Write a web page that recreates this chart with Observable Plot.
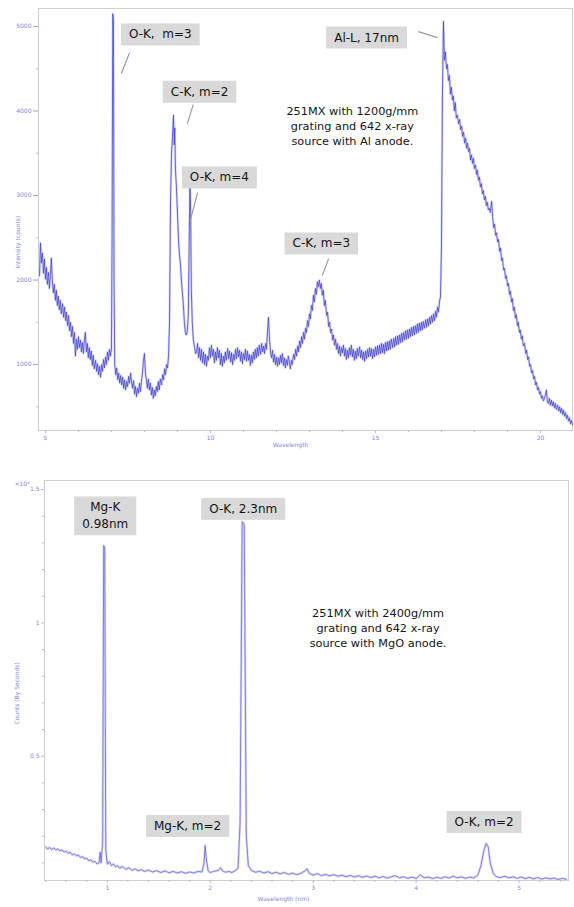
<!DOCTYPE html>
<html><head><meta charset="utf-8">
<script src="https://cdn.jsdelivr.net/npm/d3@7"></script>
<script src="https://cdn.jsdelivr.net/npm/@observablehq/plot@0.6"></script>
<style>
body{margin:0;background:#fff;}
#chart{width:574px;}
svg{display:block;}
</style></head><body><div id="chart"></div>
<script>
// ---------- TOP PANEL DATA (wavelength nm, counts) ----------
const topSpectrum = [
[4.82,2050],[4.85,2440],[4.88,2200],[4.91,2320],[4.94,2080],[4.97,2250],[5.00,2010],[5.03,2150],[5.06,1950],[5.09,2090],
[5.12,1900],[5.15,2050],[5.18,2260],[5.21,1980],[5.24,1850],[5.27,1950],[5.30,1760],[5.33,1880],[5.36,1700],[5.39,1810],
[5.42,1650],[5.45,1760],[5.48,1600],[5.52,1720],[5.55,1560],[5.58,1680],[5.61,1520],[5.64,1620],[5.67,1460],[5.70,1580],
[5.73,1400],[5.76,1500],[5.79,1330],[5.82,1450],[5.85,1250],[5.88,1380],[5.91,1100],[5.94,1300],[5.97,1180],[6.00,1330],
[6.03,1200],[6.06,1290],[6.09,1150],[6.12,1260],[6.15,1130],[6.18,1290],[6.21,1380],[6.24,1150],[6.27,1250],[6.30,1080],
[6.33,1200],[6.36,1060],[6.39,1160],[6.42,990],[6.45,1110],[6.48,950],[6.52,1050],[6.55,920],[6.58,1010],[6.61,880],
[6.64,980],[6.67,850],[6.70,1000],[6.73,920],[6.76,1060],[6.79,960],[6.82,1090],[6.85,1000],[6.88,1150],[6.91,1050],
[6.94,1180],[6.97,1100],[7.00,1180],[7.02,2500],[7.04,5150],[7.06,5100],[7.08,2000],[7.10,1000],[7.13,880],[7.16,960],
[7.19,820],[7.22,900],[7.25,780],[7.28,870],[7.31,760],[7.34,850],[7.37,720],[7.40,820],[7.43,700],[7.46,800],
[7.49,740],[7.52,860],[7.55,780],[7.58,900],[7.61,790],[7.64,720],[7.67,810],[7.70,650],[7.73,740],[7.76,620],
[7.79,720],[7.82,660],[7.85,780],[7.88,680],[7.91,800],[7.94,900],[7.97,1050],[8.00,1130],[8.03,900],[8.06,820],
[8.09,720],[8.12,830],[8.15,700],[8.18,780],[8.21,640],[8.24,730],[8.27,600],[8.30,700],[8.33,630],[8.36,740],
[8.39,680],[8.42,800],[8.45,700],[8.48,830],[8.52,760],[8.55,880],[8.58,820],[8.61,950],[8.64,880],[8.67,1000],
[8.70,960],[8.73,1100],[8.76,1500],[8.79,2900],[8.82,3500],[8.85,3700],[8.88,3950],[8.90,3600],[8.92,3800],[8.94,3300],
[8.97,3100],[9.00,2800],[9.03,2500],[9.06,2300],[9.09,2200],[9.12,2000],[9.15,1850],[9.18,1700],[9.21,1500],[9.24,1380],
[9.27,1350],[9.30,1400],[9.33,1600],[9.36,2600],[9.38,3180],[9.40,2800],[9.42,1900],[9.45,1500],[9.48,1300],[9.52,1200],
[9.55,1130],[9.58,1150],[9.61,1250],[9.64,1080],[9.67,1200],[9.70,1050],[9.73,1180],[9.76,1020],[9.79,1150],[9.82,1000],
[9.85,1120],[9.88,980],[9.91,1100],[9.94,1050],[9.97,1200],[10.00,1080],[10.03,1230],[10.06,1100],[10.09,1180],[10.12,1020],
[10.15,1150],[10.18,1050],[10.21,1200],[10.24,1080],[10.27,1170],[10.30,1000],[10.33,1130],[10.36,980],[10.39,1100],[10.42,1020],
[10.45,1150],[10.48,1050],[10.52,1190],[10.55,1070],[10.58,1160],[10.61,1030],[10.64,1140],[10.67,1000],[10.70,1120],[10.73,1050],
[10.76,1180],[10.79,1070],[10.82,1200],[10.85,1090],[10.88,1170],[10.91,1040],[10.94,1150],[10.97,1010],[11.00,1130],[11.03,1060],
[11.06,1180],[11.09,1040],[11.12,1160],[11.15,1050],[11.18,1120],[11.21,990],[11.24,1110],[11.27,1020],[11.30,1150],[11.33,1060],
[11.36,1180],[11.39,1080],[11.42,1200],[11.45,1100],[11.48,1230],[11.52,1120],[11.55,1250],[11.58,1150],[11.61,1220],[11.64,1130],
[11.67,1250],[11.70,1180],[11.73,1400],[11.76,1560],[11.79,1300],[11.82,1150],[11.85,1080],[11.88,1170],[11.91,1030],[11.94,1120],
[11.97,1000],[12.00,1090],[12.03,980],[12.06,1080],[12.09,1000],[12.12,1110],[12.15,1020],[12.18,1130],[12.21,990],[12.24,1080],
[12.27,960],[12.30,1060],[12.33,990],[12.36,1100],[12.39,1030],[12.42,950],[12.45,1050],[12.48,1000],[12.52,1120],[12.55,1060],
[12.58,1180],[12.61,1100],[12.64,1220],[12.67,1150],[12.70,1280],[12.73,1200],[12.76,1330],[12.79,1250],[12.82,1380],[12.85,1300],
[12.88,1430],[12.91,1380],[12.94,1520],[12.97,1450],[13.00,1600],[13.03,1540],[13.06,1700],[13.09,1640],[13.12,1820],[13.15,1740],
[13.18,1900],[13.21,1830],[13.24,1980],[13.27,1920],[13.30,2000],[13.33,1900],[13.36,1960],[13.39,1820],[13.42,1880],[13.45,1700],
[13.48,1760],[13.52,1580],[13.55,1620],[13.58,1450],[13.61,1500],[13.64,1380],[13.67,1420],[13.70,1290],[13.73,1350],[13.76,1230],
[13.79,1300],[13.82,1180],[13.85,1250],[13.88,1130],[13.91,1220],[13.94,1100],[13.97,1200],[14.00,1140],[14.03,1230],[14.06,1100],
[14.09,1190],[14.12,1060],[14.15,1170],[14.18,1080],[14.21,1200],[14.24,1110],[14.27,1230],[14.30,1090],[14.33,1180],[14.36,1050],
[14.39,1160],[14.42,1070],[14.45,1190],[14.48,1100],[14.52,1210],[14.55,1080],[14.58,1170],[14.61,1060],[14.64,1150],[14.67,1040],
[14.70,1160],[14.73,1070],[14.76,1180],[14.79,1090],[14.82,1200],[14.85,1100],[14.88,1190],[14.91,1070],[14.94,1180],[14.97,1090],
[15.00,1210],[15.03,1110],[15.06,1220],[15.09,1120],[15.12,1230],[15.15,1130],[15.18,1250],[15.21,1140],[15.24,1240],[15.27,1130],
[15.30,1260],[15.33,1160],[15.36,1270],[15.39,1170],[15.42,1280],[15.45,1180],[15.48,1300],[15.52,1200],[15.55,1310],[15.58,1210],
[15.61,1330],[15.64,1230],[15.67,1340],[15.70,1240],[15.73,1350],[15.76,1260],[15.79,1370],[15.82,1270],[15.85,1380],[15.88,1290],
[15.91,1400],[15.94,1300],[15.97,1410],[16.00,1310],[16.03,1420],[16.06,1330],[16.09,1440],[16.12,1340],[16.15,1450],[16.18,1350],
[16.21,1460],[16.24,1370],[16.27,1480],[16.30,1380],[16.33,1490],[16.36,1400],[16.39,1500],[16.42,1410],[16.45,1510],[16.48,1430],
[16.52,1530],[16.55,1440],[16.58,1540],[16.61,1460],[16.64,1560],[16.67,1480],[16.70,1580],[16.73,1500],[16.76,1600],[16.79,1520],
[16.82,1630],[16.85,1560],[16.88,1680],[16.91,1620],[16.94,1750],[16.97,1800],[17.00,2400],[17.03,4200],[17.06,5060],[17.09,4600],
[17.12,4700],[17.15,4500],[17.18,4550],[17.21,4360],[17.24,4420],[17.27,4200],[17.30,4280],[17.33,4130],[17.36,4180],[17.39,4000],
[17.42,4100],[17.45,3920],[17.48,3950],[17.52,3850],[17.55,3900],[17.58,3780],[17.61,3820],[17.64,3700],[17.67,3750],[17.70,3620],
[17.73,3680],[17.76,3560],[17.79,3620],[17.82,3520],[17.85,3560],[17.88,3420],[17.91,3480],[17.94,3380],[17.97,3440],[18.00,3320],
[18.03,3360],[18.06,3250],[18.09,3300],[18.12,3180],[18.15,3220],[18.18,3100],[18.21,3140],[18.24,3020],[18.27,3060],[18.30,2950],
[18.33,2990],[18.36,2880],[18.39,2920],[18.42,2830],[18.45,2850],[18.48,2800],[18.52,2930],[18.55,2750],[18.58,2620],[18.61,2660],
[18.64,2530],[18.67,2560],[18.70,2450],[18.73,2480],[18.76,2340],[18.79,2380],[18.82,2230],[18.85,2260],[18.88,2120],[18.91,2140],
[18.94,2020],[18.97,2050],[19.00,1930],[19.03,1960],[19.06,1830],[19.09,1870],[19.12,1740],[19.15,1780],[19.18,1640],[19.21,1680],
[19.24,1550],[19.27,1590],[19.30,1460],[19.33,1500],[19.36,1380],[19.39,1410],[19.42,1300],[19.45,1340],[19.48,1220],[19.52,1250],
[19.55,1130],[19.58,1170],[19.61,1060],[19.64,1090],[19.67,980],[19.70,1000],[19.73,900],[19.76,930],[19.79,830],[19.82,860],
[19.85,760],[19.88,790],[19.91,700],[19.94,730],[19.97,650],[20.00,680],[20.03,600],[20.06,630],[20.09,570],[20.12,600],
[20.15,640],[20.18,700],[20.21,560],[20.24,540],[20.27,600],[20.30,520],[20.33,580],[20.36,510],[20.39,560],[20.42,490],
[20.45,540],[20.48,470],[20.52,520],[20.55,450],[20.58,500],[20.61,430],[20.64,480],[20.67,410],[20.70,460],[20.73,390],
[20.76,430],[20.79,360],[20.82,400],[20.85,330],[20.88,370],[20.91,300],[20.94,340],[20.97,290]
];
const topXDomain = [4.79, 20.97];
const topYDomain = [220, 5213];
const topMajorX = [5, 10, 15, 20];
const topMinorX = [6,7,8,9,11,12,13,14,16,17,18,19];
const topMajorY = [1000, 2000, 3000, 4000, 5000];
const topMinorY = [500, 1500, 2500, 3500, 4500];
const topLabels = ["O-K,  m=3", "C-K, m=2", "O-K, m=4", "C-K, m=3", "Al-L, 17nm"];
const topLabelX = [8.48, 9.67, 10.27, 13.36, 14.73];
const topLabelY = [4904, 4226, 3212, 2431, 4868];
const topLeaderX1 = [7.55, 9.48, 9.61, 13.58, 16.30];
const topLeaderY1 = [4691, 4076, 3035, 2254, 4939];
const topLeaderX2 = [7.30, 9.30, 9.39, 13.39, 16.88];
const topLeaderY2 = [4443, 3851, 2704, 2053, 4868];
const topNote = "251MX with 1200g/mm\ngrating and 642 x-ray\nsource with Al anode.";
const topNoteXY = [14.30, 3827];
const topXTitle = "Wavelength";
const topYTitle = "Intensity (counts)";

// ---------- BOTTOM PANEL DATA (wavelength nm, counts) ----------
const bottomSpectrum = [
[0.40,1600],[0.42,1520],[0.44,1580],[0.46,1500],[0.48,1560],[0.50,1480],[0.52,1530],[0.54,1450],[0.56,1490],[0.58,1400],
[0.60,1440],[0.62,1360],[0.64,1400],[0.66,1300],[0.68,1340],[0.70,1260],[0.72,1300],[0.74,1200],[0.76,1240],[0.78,1150],
[0.80,1180],[0.82,1080],[0.84,1120],[0.86,1030],[0.88,1060],[0.90,960],[0.92,1000],[0.93,1400],[0.94,1000],[0.955,1800],
[0.965,12900],[0.975,12800],[0.985,1500],[1.00,950],[1.02,1050],[1.04,900],[1.06,960],[1.08,850],[1.10,900],[1.12,800],
[1.15,860],[1.18,760],[1.21,820],[1.24,720],[1.27,780],[1.30,700],[1.33,750],[1.36,680],[1.40,730],[1.44,660],
[1.48,710],[1.52,640],[1.56,700],[1.60,630],[1.64,680],[1.68,620],[1.72,670],[1.76,610],[1.80,660],[1.84,620],
[1.88,680],[1.92,660],[1.94,1000],[1.95,1650],[1.96,1200],[1.98,700],[2.00,640],[2.04,690],[2.08,720],[2.10,820],
[2.12,700],[2.15,650],[2.18,680],[2.21,640],[2.24,700],[2.27,800],[2.29,2500],[2.31,13800],[2.33,13700],[2.35,2000],
[2.37,900],[2.40,720],[2.44,650],[2.48,690],[2.52,620],[2.56,670],[2.60,600],[2.64,650],[2.68,590],[2.72,640],
[2.76,570],[2.80,620],[2.84,560],[2.88,610],[2.92,700],[2.94,780],[2.96,620],[3.00,540],[3.04,600],[3.08,520],
[3.12,570],[3.16,510],[3.20,560],[3.24,500],[3.28,540],[3.32,480],[3.36,530],[3.40,470],[3.44,520],[3.48,460],
[3.52,510],[3.56,450],[3.60,500],[3.64,440],[3.68,490],[3.72,430],[3.76,480],[3.80,520],[3.84,440],[3.88,480],
[3.92,420],[3.96,470],[4.00,410],[4.04,560],[4.08,440],[4.12,470],[4.16,410],[4.20,460],[4.24,420],[4.28,480],
[4.32,430],[4.36,500],[4.40,440],[4.44,480],[4.48,420],[4.52,470],[4.56,430],[4.60,550],[4.63,900],[4.66,1500],
[4.68,1730],[4.70,1600],[4.72,1000],[4.75,600],[4.78,480],[4.82,450],[4.86,500],[4.90,440],[4.94,480],[4.98,420],
[5.02,470],[5.06,410],[5.10,460],[5.14,400],[5.18,450],[5.22,390],[5.26,440],[5.30,400],[5.34,430],[5.38,380],
[5.42,420],[5.46,390]
];
const bottomXDomain = [0.39, 5.48];
const bottomYDomain = [340, 15340];
const bottomMajorX = [1, 2, 3, 4, 5];
const bottomMinorX = [0.4,0.6,0.8,1.2,1.4,1.6,1.8,2.2,2.4,2.6,2.8,3.2,3.4,3.6,3.8,4.2,4.4,4.6,4.8,5.2,5.4];
const bottomMajorY = [5000, 10000, 15000];
const bottomMinorY = [1000,2000,3000,4000,6000,7000,8000,9000,11000,12000,13000,14000];
const bottomLabels = ["Mg-K\n0.98nm", "O-K, 2.3nm", "Mg-K, m=2", "O-K, m=2"];
const bottomLabelX = [0.98, 2.32, 1.78, 4.66];
const bottomLabelY = [14066, 14329, 2438, 2588];
const bottomNote = "251MX with 2400g/mm\ngrating and 642 x-ray\nsource with MgO anode.";
const bottomNoteXY = [3.63, 9828];
const bottomXTitle = "Wavelength (nm)";
const bottomYTitle = "Counts (By Seconds)";

// ---------- STYLE ----------
const FONT = "DejaVu Sans, Verdana, sans-serif";
const axisInk = "#8585d6";
const tickInk = "#b8b8d8";
const haloInk = "#dcdcf6";
const annoInk = "#141414";

function table(pairs){ return pairs.map(([w,c]) => ({w, c})); }
function labelRows(t, x, y){ return t.map((s,i)=>({s, x:x[i], y:y[i]})); }

const chart = document.getElementById("chart");

const topPlot = Plot.plot({
  width: 574, height: 452,
  marginLeft: 38, marginRight: 2, marginTop: 8, marginBottom: 22,
  style: {fontFamily: FONT, background: "#fff", overflow: "visible"},
  x: {domain: topXDomain},
  y: {domain: topYDomain},
  marks: [
    Plot.frame({stroke: "#cfcfcf"}),
    Plot.axisX({ticks: topMinorX, tickSize: 2, tickFormat: () => "", stroke: tickInk, label: null}),
    Plot.axisX({ticks: topMajorX, tickSize: 3, tickPadding: 2, fontSize: 6, fill: axisInk, stroke: tickInk,
      tickFormat: d => String(d), label: null}),
    Plot.axisY({ticks: topMinorY, tickSize: 2, tickFormat: () => "", stroke: tickInk, label: null}),
    Plot.axisY({ticks: topMajorY, tickSize: 5, tickPadding: 2, fontSize: 6, fill: axisInk, stroke: "#9a9ad8",
      tickFormat: d => String(d), label: null}),
    Plot.text([topXTitle], {frameAnchor: "bottom", text: d => d, dx: -15, dy: 16, fontSize: 6, fill: axisInk}),
    Plot.text([topYTitle], {frameAnchor: "left", text: d => d, rotate: -90, dx: -20, dy: 49, fontSize: 6, fill: axisInk}),
    Plot.line(table(topSpectrum), {x: "w", y: "c", stroke: haloInk, strokeWidth: 2.5}),
    Plot.line(table(topSpectrum), {x: "w", y: "c", stroke: "#4646cc", strokeWidth: 0.9, strokeOpacity: 0.9}),
    Plot.link(topLabels.map((s,i)=>({x1: topLeaderX1[i], y1: topLeaderY1[i], x2: topLeaderX2[i], y2: topLeaderY2[i]})),
      {x1: "x1", y1: "y1", x2: "x2", y2: "y2", stroke: "#9a9a9a", strokeWidth: 1.2}),
    Plot.text(labelRows(topLabels, topLabelX, topLabelY), {x: "x", y: "y", text: "s", fontSize: 12, fill: annoInk,
      fontFamily: FONT}),
    Plot.text([topNote], {x: () => topNoteXY[0], y: () => topNoteXY[1], text: d => d, fontSize: 11.3, fill: "#151515",
      lineHeight: 1.33, fontFamily: FONT})
  ]
});
chart.appendChild(topPlot);

const bottomPlot = Plot.plot({
  width: 574, height: 455,
  marginLeft: 44, marginRight: 6, marginTop: 28, marginBottom: 27,
  style: {fontFamily: FONT, background: "#fff", overflow: "visible"},
  x: {domain: bottomXDomain},
  y: {domain: bottomYDomain},
  marks: [
    Plot.frame({stroke: "#cfcfcf"}),
    Plot.axisX({ticks: bottomMinorX, tickSize: 2, tickFormat: () => "", stroke: tickInk, label: null}),
    Plot.axisX({ticks: bottomMajorX, tickSize: 3, tickPadding: 2, fontSize: 6, fill: axisInk, stroke: tickInk,
      tickFormat: d => String(d), label: null}),
    Plot.axisY({ticks: bottomMinorY, tickSize: 2, tickFormat: () => "", stroke: tickInk, label: null}),
    Plot.axisY({ticks: bottomMajorY, tickSize: 3, tickPadding: 2, fontSize: 6, fill: axisInk, stroke: tickInk,
      tickFormat: d => String(d / 10000), label: null}),
    Plot.text([bottomXTitle], {frameAnchor: "bottom", text: d => d, dx: -23, dy: 20, fontSize: 6, fill: axisInk}),
    Plot.text([bottomYTitle], {frameAnchor: "left", text: d => d, rotate: -90, dx: -27, dy: 44, fontSize: 6, fill: axisInk}),
    Plot.text(["×10⁴"], {frameAnchor: "top-left", text: d => d, dx: -30, dy: 1, textAnchor: "start", fontSize: 6, fill: axisInk}),
    Plot.line(table(bottomSpectrum), {x: "w", y: "c", stroke: haloInk, strokeWidth: 2.5}),
    Plot.line(table(bottomSpectrum), {x: "w", y: "c", stroke: "#6262d6", strokeWidth: 0.9, strokeOpacity: 0.85}),
    Plot.text(labelRows(bottomLabels, bottomLabelX, bottomLabelY), {x: "x", y: "y", text: "s", fontSize: 12, fill: annoInk,
      lineHeight: 1.4, fontFamily: FONT}),
    Plot.text([bottomNote], {x: () => bottomNoteXY[0], y: () => bottomNoteXY[1], text: d => d, fontSize: 11.3, fill: "#151515",
      lineHeight: 1.33, fontFamily: FONT})
  ]
});
chart.appendChild(bottomPlot);

// grey label boxes behind the annotation texts
function addBoxes(svg){
  svg.querySelectorAll("g").forEach(g => {
    if ((g.getAttribute("fill") || "").toLowerCase() !== annoInk) return;
    Array.from(g.querySelectorAll(":scope > text")).forEach(t => {
      const b = t.getBBox();
      const r = document.createElementNS("http://www.w3.org/2000/svg", "rect");
      r.setAttribute("x", b.x - 8);
      r.setAttribute("y", b.y - 4);
      r.setAttribute("width", b.width + 16);
      r.setAttribute("height", b.height + 8);
      r.setAttribute("fill", "#d9d9d9");
      const tr = t.getAttribute("transform");
      if (tr) r.setAttribute("transform", tr);
      g.insertBefore(r, t);
    });
  });
}
addBoxes(topPlot);
addBoxes(bottomPlot);
</script></body></html>
